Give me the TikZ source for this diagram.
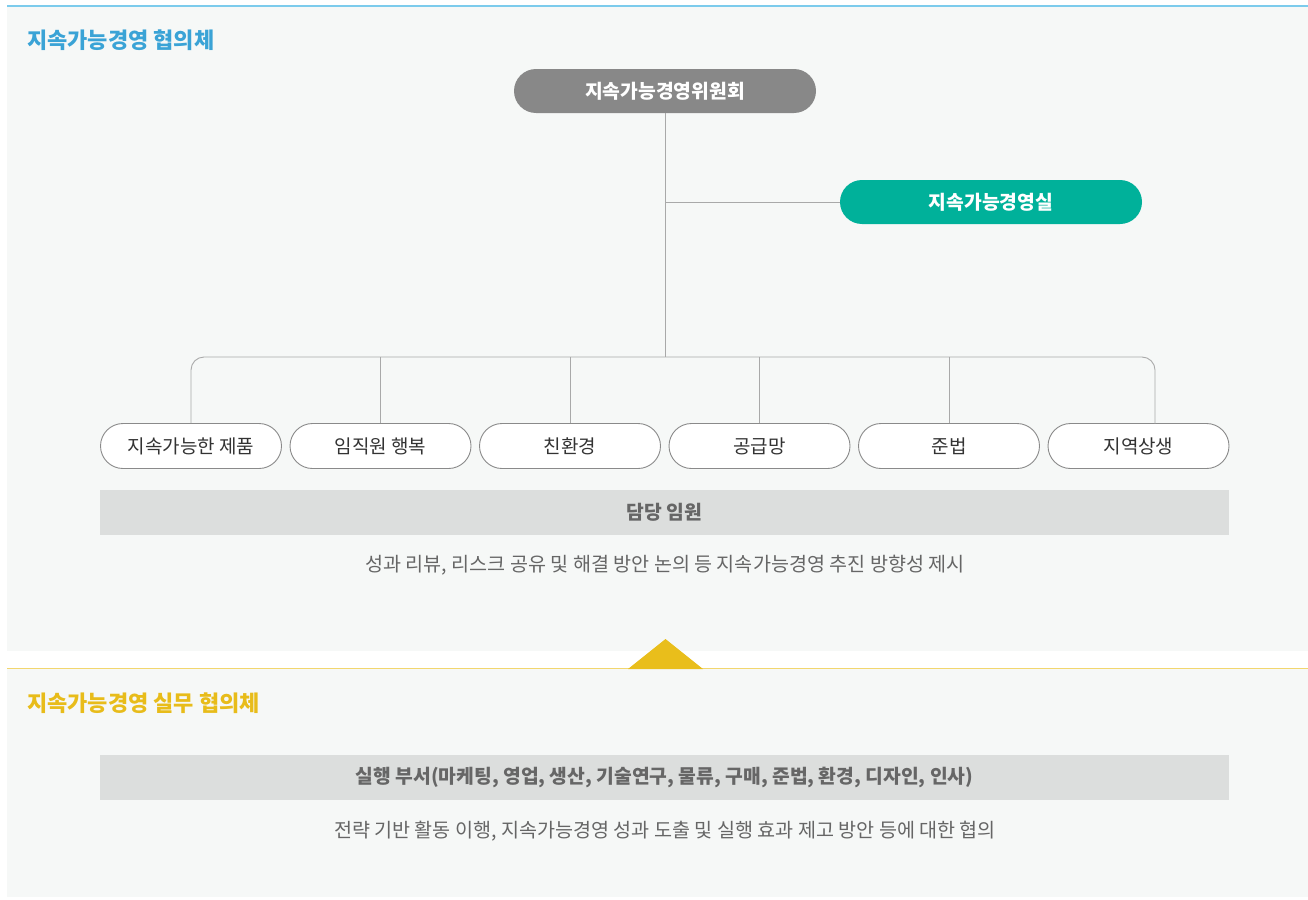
\documentclass[tikz,border=0pt]{standalone}
\usepackage{fontspec}
\setmainfont{Noto Sans CJK KR}
\usetikzlibrary{calc}
\definecolor{panelbg}{HTML}{F6F8F7}
\definecolor{blueline}{HTML}{7CCBEC}
\definecolor{bluetitle}{HTML}{3AA3D6}
\definecolor{yellowline}{HTML}{F2D66E}
\definecolor{yellowtitle}{HTML}{E8BC1A}
\definecolor{trigold}{HTML}{E9BE1B}
\definecolor{topgray}{HTML}{888888}
\definecolor{teal}{HTML}{00B19A}
\definecolor{bandgray}{HTML}{DCDEDD}
\definecolor{linegray}{HTML}{A9A9A9}
\definecolor{boxborder}{HTML}{8A8A8A}
\definecolor{txtdark}{HTML}{333333}
\definecolor{txtgray}{HTML}{666666}
\tikzset{
  pill/.style={rounded corners=22pt, minimum width=302pt, minimum height=44pt, inner sep=0pt, text=white, font=\fontsize{19.3}{22}\selectfont\bfseries},
  unitbox/.style={draw=boxborder, line width=0.9pt, fill=white, rounded corners=22.5pt, minimum width=181pt, minimum height=45pt, inner sep=0pt, text=txtdark, font=\fontsize{19}{22}\selectfont},
  band/.style={fill=bandgray, minimum width=1129pt, minimum height=45pt, inner sep=0pt, text=txtgray, font=\fontsize{19.3}{22}\selectfont\bfseries},
  desc/.style={text=txtgray, inner sep=0pt, font=\fontsize{19.6}{22}\selectfont},
  sectitle/.style={anchor=west, inner sep=0pt, font=\fontsize{22}{26}\selectfont\bfseries},
  conn/.style={draw=linegray, line width=0.9pt}
}
\begin{document}
\begin{tikzpicture}[x=1pt,y=-1pt]
\useasboundingbox (0,0) rectangle (1308,899);
\fill[white] (0,0) rectangle (1308,899);
% panels
\fill[panelbg] (7,6) rectangle (1308,651);
\fill[panelbg] (7,668) rectangle (1308,897);
\draw[blueline, line width=1.2pt] (7,6) -- (1308,6);
\draw[yellowline, line width=1.5pt] (7,668.5) -- (1308,668.5);
\fill[trigold] (628,669) -- (665.5,639) -- (703,669) -- cycle;
% titles
\node[sectitle, text=bluetitle] (t1) at (27,40) {지속가능경영 협의체};
\node[sectitle, text=yellowtitle] (t2) at (27,703) {지속가능경영 실무 협의체};
% top nodes
\node[pill, fill=topgray] (top) at (665,91) {지속가능경영위원회};
\node[pill, fill=teal] (sil) at (991,202) {지속가능경영실};
% unit boxes
\node[unitbox] (b1) at (191,446) {지속가능한 제품};
\node[unitbox] (b2) at (380.5,446) {임직원 행복};
\node[unitbox] (b3) at (570,446) {친환경};
\node[unitbox] (b4) at (759.5,446) {공급망};
\node[unitbox] (b5) at (949,446) {준법};
\node[unitbox] (b6) at (1138.5,446) {지역상생};
\coordinate (bus) at (665,357);
\coordinate (r6) at (1155,423.5);
% connectors
\draw[conn] (top.south) -- (bus);
\draw[conn] (top.south |- sil.west) -- (sil.west);
\draw[conn, rounded corners=13pt] (b1.north) |- (bus) -| (r6);
\draw[conn] (b2.north) -- (b2.north |- bus);
\draw[conn] (b3.north) -- (b3.north |- bus);
\draw[conn] (b4.north) -- (b4.north |- bus);
\draw[conn] (b5.north) -- (b5.north |- bus);
% bands and descriptions
\node[band] (exec) at (664.5,512) {담당 임원};
\node[desc] (d1) at (665,565) {성과 리뷰, 리스크 공유 및 해결 방안 논의 등 지속가능경영 추진 방향성 제시};
\node[band] (dept) at (664.5,777) {실행 부서(마케팅, 영업, 생산, 기술연구, 물류, 구매, 준법, 환경, 디자인, 인사)};
\node[desc] (d2) at (665,831) {전략 기반 활동 이행, 지속가능경영 성과 도출 및 실행 효과 제고 방안 등에 대한 협의};
\end{tikzpicture}
\end{document}
